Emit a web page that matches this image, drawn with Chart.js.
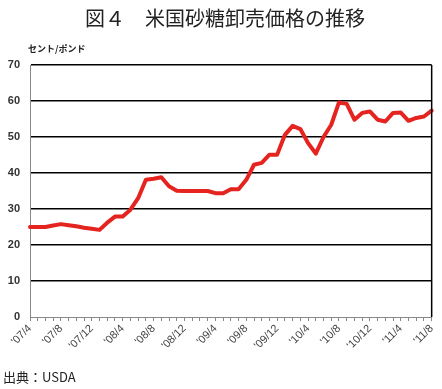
<!DOCTYPE html>
<html lang="ja">
<head>
<meta charset="UTF-8">
<title>米国砂糖卸売価格の推移</title>
<script src="https://cdn.jsdelivr.net/npm/chart.js"></script>
<style>
    body {
        margin: 0;
        background: #fff;
        font-family: "Noto Sans CJK JP", "Noto Sans", sans-serif;
    }
    .wrap {
        position: relative;
        width: 442px;
        height: 389px;
    }
    .title {
        position: absolute;
        top: 3px;
        left: 4px;
        width: 442px;
        text-align: center;
        font-size: 20px;
        font-weight: normal;
        color: #222;
    }
    .unit {
        position: absolute;
        top: 42px;
        left: 28px;
        font-size: 9px;
        font-weight: bold;
        color: #222;
    }
    .source {
        position: absolute;
        top: 367px;
        left: 3px;
        font-size: 13px;
        color: #222;
    }
    canvas { position: absolute; top: 0; left: 0; }
</style>
</head>
<body>
<div class="wrap">
    <canvas id="sugarChart" width="442" height="389"></canvas>
    <div class="title">図４　米国砂糖卸売価格の推移</div>
    <div class="unit">セント/ポンド</div>
    <div class="source">出典：USDA</div>
</div>
<script>
// monthly, '07/4 .. '11/8
const months = [
    "'07/4", "'07/5", "'07/6", "'07/7", "'07/8", "'07/9", "'07/10", "'07/11", "'07/12",
    "'08/1", "'08/2", "'08/3", "'08/4", "'08/5", "'08/6", "'08/7", "'08/8", "'08/9", "'08/10", "'08/11", "'08/12",
    "'09/1", "'09/2", "'09/3", "'09/4", "'09/5", "'09/6", "'09/7", "'09/8", "'09/9", "'09/10", "'09/11", "'09/12",
    "'10/1", "'10/2", "'10/3", "'10/4", "'10/5", "'10/6", "'10/7", "'10/8", "'10/9", "'10/10", "'10/11", "'10/12",
    "'11/1", "'11/2", "'11/3", "'11/4", "'11/5", "'11/6", "'11/7", "'11/8"
];
// セント/ポンド
const prices = [
    25.0, 25.0, 25.0, 25.4, 25.8, 25.5, 25.2, 24.8, 24.5,
    24.2, 26.2, 27.9, 27.9, 29.8, 33.0, 38.1, 38.4, 38.8, 36.3, 35.1, 35.0,
    35.0, 35.0, 35.0, 34.4, 34.4, 35.5, 35.5, 38.1, 42.3, 42.8, 45.1, 45.1,
    50.6, 53.1, 52.2, 48.3, 45.4, 50.0, 53.4, 59.6, 59.2, 54.8, 56.7, 57.1,
    54.8, 54.3, 56.7, 56.8, 54.5, 55.3, 55.7, 57.3
];
const yTicks = [0, 10, 20, 30, 40, 50, 60, 70];
const labelEvery = 4;

// black right border of the plot
const rightBorder = {
    id: 'rightBorder',
    afterDraw(chart) {
        const a = chart.chartArea;
        const c = chart.ctx;
        c.save();
        c.strokeStyle = '#000';
        c.lineWidth = 1.5;
        c.beginPath();
        c.moveTo(a.right, a.top);
        c.lineTo(a.right, a.bottom);
        c.stroke();
        c.restore();
    }
};

new Chart(document.getElementById('sugarChart'), {
    type: 'line',
    data: {
        labels: months,
        datasets: [{
            data: prices,
            borderColor: '#e5231f',
            borderWidth: 4,
            pointRadius: 0,
            tension: 0,
            borderJoinStyle: 'round',
            borderCapStyle: 'round',
            clip: false
        }]
    },
    options: {
        responsive: false,
        animation: false,
        layout: { padding: { top: 65, right: 6, left: 0, bottom: 0 } },
        plugins: { legend: { display: false }, tooltip: { enabled: false } },
        scales: {
            x: {
                offset: false,
                afterFit: s => { s.height = 72; },
                border: { color: '#888', width: 1 },
                grid: {
                    drawOnChartArea: false,
                    drawTicks: true,
                    tickLength: 4,
                    color: '#888'
                },
                ticks: {
                    autoSkip: false,
                    maxRotation: 45,
                    minRotation: 45,
                    padding: 1,
                    color: '#444',
                    font: { family: 'Liberation Sans', size: 11 },
                    callback: (v, i) => i % labelEvery === 0 ? months[i] : ''
                }
            },
            y: {
                min: 0,
                max: 70,
                afterFit: s => { s.width = 30; },
                afterBuildTicks: s => { s.ticks = yTicks.map(v => ({ value: v })); },
                border: { color: '#888', width: 1 },
                grid: {
                    drawTicks: false,
                    lineWidth: 1.5,
                    color: c => c.tick && c.tick.value === 0 ? 'rgba(0,0,0,0)' : '#000'
                },
                ticks: {
                    padding: 10,
                    color: '#333',
                    font: { family: 'Liberation Sans', size: 11, weight: 'bold' }
                }
            }
        }
    },
    plugins: [rightBorder]
});
</script>
</body>
</html>
